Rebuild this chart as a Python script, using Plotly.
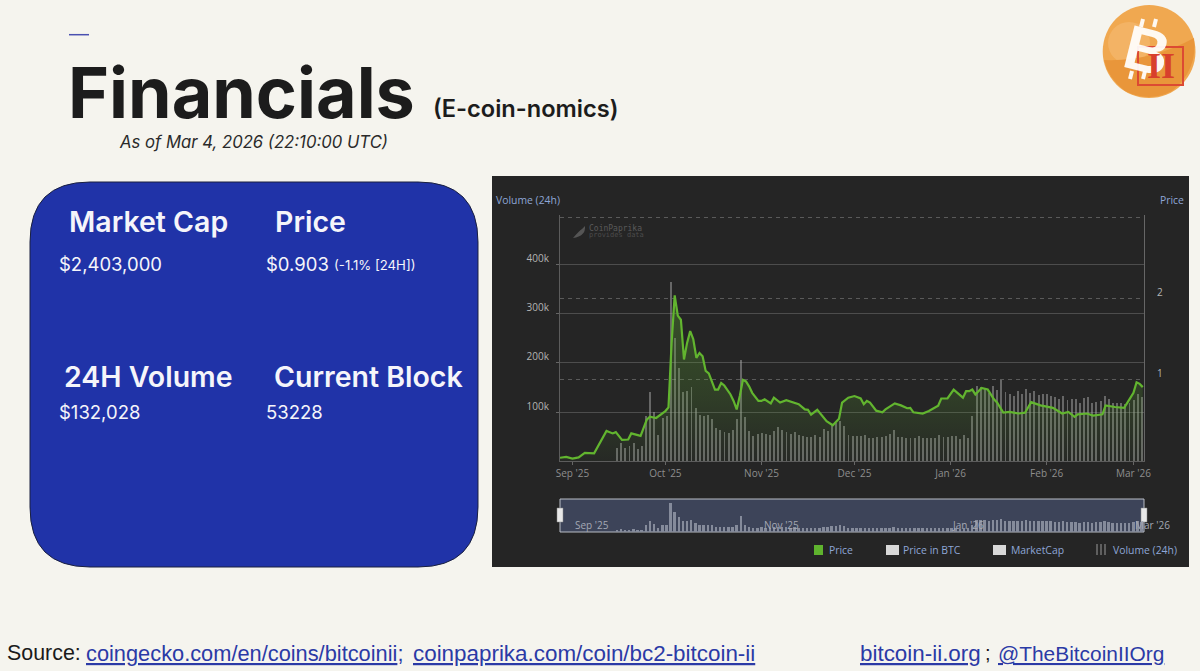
import pandas as pd
import plotly.graph_objects as go

W, H = 1200, 671

# ---- data ----
price_day = [0,2,4,6,8,11,15,17,18,20,22,23,26,28,29,31,34,35,36,37,38,39,40,41,42,43,44,45,46,47,48,49,50,51,52,53,54,55,56,57,58,59,60,61,62,63,64,65,66,68,69,71,73,77,79,80,81,83,86,88,90,91,93,95,97,98,99,100,102,104,105,108,110,112,113,114,117,119,122,123,125,127,130,131,132,133,134,136,138,140,141,143,145,148,150,152,155,159,162,164,166,167,170,172,175,176,179,182,184,185,186,187,188]
price_usd = [.04,.05,.03,.045,.10,.095,.37,.34,.355,.26,.265,.34,.31,.51,.545,.53,.615,.66,1.45,2.04,1.79,1.74,1.25,1.455,1.60,1.50,1.27,1.33,1.29,1.11,1.08,.97,.88,.88,.96,.93,.88,.82,.74,.635,.80,1.0,.98,.92,.84,.79,.74,.74,.76,.71,.78,.72,.75,.70,.635,.63,.57,.63,.49,.44,.52,.72,.78,.80,.77,.70,.74,.72,.62,.60,.635,.71,.685,.65,.655,.60,.585,.615,.68,.77,.77,.88,.78,.86,.86,.88,.82,.90,.88,.76,.72,.595,.605,.585,.595,.725,.685,.655,.585,.605,.545,.575,.585,.56,.575,.685,.665,.655,.78,.84,.97,.95,.91]
volume_k = [27,37,27,30,37,25,30,92,140,100,54,88,92,365,250,190,141,143,150,108,94,91,94,86,67,64,60,58,64,85,206,90,62,51,56,57,56,53,61,69,63,59,56,59,54,51,50,50,54,50,65,61,73,78,82,71,54,52,52,52,54,46,46,48,48,52,56,63,49,49,46,46,46,51,46,47,46,46,54,50,48,51,52,44,54,46,92,153,150,146,139,154,145,165,141,136,133,143,136,146,139,143,135,136,136,133,131,127,133,124,126,127,119,129,131,119,121,122,133,127,119,118,119,116,119,124,136,131]
month_ticks = ["2025-09-01","2025-10-01","2025-11-01","2025-12-01","2026-01-01","2026-02-01","2026-03-01"]
month_labels = ["Sep '25","Oct '25","Nov '25","Dec '25","Jan '26","Feb '26","Mar '26"]
volume_ticks = [100,200,300,400]
volume_tick_labels = ["100k","200k","300k","400k"]
price_ticks = [1,2,3]
price_tick_labels = ["1","2",""]
stats_labels = ["Market Cap","Price","24H Volume","Current Block"]
stats_values = ["$2,403,000","$0.903","$132,028","53228"]

def px(x): return x / W
def py(y): return 1 - y / H

origin = pd.Timestamp("2025-08-28")
price_dates = [origin + pd.Timedelta(days=d) for d in price_day]
volume_dates = pd.date_range("2025-09-15 10:00", "2026-03-03 17:00", periods=len(volume_k))
x_range = [origin, origin + pd.Timedelta(days=188.4)]

fig = go.Figure()
fig.add_trace(go.Bar(x=volume_dates, y=volume_k, width=0.62*86400000, marker=dict(color="rgba(170,170,170,0.5)", line_width=0), xaxis="x", yaxis="y", name="Volume (24h)", showlegend=False))
fig.add_trace(go.Scatter(x=price_dates, y=price_usd, mode="lines", line=dict(color="#62b52f", width=2.2), fill="tozeroy",
    fillgradient=dict(type="vertical", colorscale=[[0,"rgba(95,170,50,0.03)"],[0.4,"rgba(95,170,50,0.19)"],[1,"rgba(95,170,50,0.34)"]]),
    xaxis="x", yaxis="y2", name="Price", showlegend=False))
fig.add_trace(go.Bar(x=volume_dates, y=volume_k, width=0.62*86400000, marker=dict(color="#858b9b", line_width=0), xaxis="x2", yaxis="y3", showlegend=False))

shapes = []
def rect(x0,y0,x1,y1,fill,line=None,lw=0,layer="below"):
    shapes.append(dict(type="rect",xref="paper",yref="paper",x0=px(x0),x1=px(x1),y0=py(y1),y1=py(y0),fillcolor=fill,line=dict(color=line or fill,width=lw),layer=layer))
def line(x0,y0,x1,y1,color,lw=1,layer="above",dash="solid"):
    shapes.append(dict(type="line",xref="paper",yref="paper",x0=px(x0),x1=px(x1),y0=py(y0),y1=py(y1),line=dict(color=color,width=lw,dash=dash),layer=layer))
def pth(cmds,fill,lcolor=None,lw=0,layer="above"):
    s=""
    for c in cmds:
        s+=c[0]+" "+" ".join(f"{px(c[i]):.5f},{py(c[i+1]):.5f}" for i in range(1,len(c),2))+" "
    shapes.append(dict(type="path",xref="paper",yref="paper",path=s+"Z",fillcolor=fill,line=dict(color=lcolor or fill,width=lw),layer=layer))

line(69,34.7,89,34.7,"#4a50b0",1.5)
r=60
x0,x1,y0,y1=30,478,182,567
pth([("M",x0+r,y0),("L",x1-r,y0),("Q",x1,y0,x1,y0+r),("L",x1,y1-r),("Q",x1,y1,x1-r,y1),("L",x0+r,y1),("Q",x0,y1,x0,y1-r),("L",x0,y0+r),("Q",x0,y0,x0+r,y0)],"#2033a8","#1a2040",1,"below")
rect(492,176,1189,567,"#252525")
rect(560,499,1144,532,"#3d4459","#b9bdc6",1)
rect(557,508,563,522,"#e8e8e8","#888888",0.5,"above")
rect(1141,508,1147,522,"#e8e8e8","#888888",0.5,"above")
rect(814,545,823,555,"#5fb32e")
rect(886,545,899,555,"#d8d8d8")
rect(993,545,1006,555,"#d8d8d8")
for xx in (1097,1101,1105):
    line(xx,544,xx,555,"#9a9a9a",1)
pth([("M",585,226),("Q",586,236,573,238),("Q",579,231,582,229)],"#555555")
shapes.append(dict(type="circle",xref="paper",yref="paper",x0=px(1102.7),x1=px(1195.5),y0=py(98),y1=py(5),fillcolor="#f0a850",line_width=0,layer="above"))
shapes.append(dict(type="circle",xref="paper",yref="paper",x0=px(1108),x1=px(1150),y0=py(64),y1=py(22),fillcolor="rgba(250,200,140,0.35)",line_width=0,layer="above"))
pth([("M",1125,91),("Q",1108,78,1104,60),("Q",1150,62,1194,38),("Q",1198,70,1172,91),("Q",1149,103,1125,91)],"#e9963a")
annots=[]
def txt(x,y,t,size,color,family="Inter",weight=400,xa="left",ya="middle",angle=0):
    annots.append(dict(xref="paper",yref="paper",x=px(x),y=py(y),text=t,showarrow=False,xanchor=xa,yanchor=ya,textangle=angle,borderpad=0,borderwidth=0,
                       font=dict(family=family,size=size,color=color,weight=weight)))

txt(1147,50,"B",62,"rgba(255,255,255,0.93)","Liberation Sans",700,"center","middle",14)
for xa,xb in ((1143,1141),(1156,1154)):
    line(xa,19,xb,27,"rgba(255,255,255,0.93)",4)
for xa,xb in ((1132,1130),(1145,1143)):
    line(xa,71,xb,79,"rgba(255,255,255,0.93)",4)
rect(1138,47,1183,85,"rgba(0,0,0,0)","#dc4a33",2,"above")
txt(1161,66,"II",36,"#d8402c","Liberation Serif",700,"center")

txt(68,92,"Financials",70,"#1c1c1c","Inter",700)
txt(433,108,"(E-coin-nomics)",23.6,"#1c1c1c","Inter",600)
txt(119,142,"<i>As of Mar 4, 2026 (22:10:00 UTC)</i>",16.7,"#2a2a2a","Inter",400)

WHT="#f5f5fa"
txt(69,222,stats_labels[0],28.5,WHT,"Inter",600)
txt(275,222,stats_labels[1],28.5,WHT,"Inter",600)
txt(64,376,stats_labels[2],28.5,WHT,"Inter",600)
txt(274,376,stats_labels[3],28.5,WHT,"Inter",600)
txt(59,264,stats_values[0],18.5,WHT)
txt(266,264,stats_values[1],18.5,WHT)
txt(334,265,"(-1.1% [24H])",13.2,WHT)
txt(59,412,stats_values[2],18.5,WHT)
txt(266,412,stats_values[3],18.5,WHT)

BL="#8ea6d6"
txt(496,199.5,"Volume (24h)",10.4,BL,"Open Sans")
txt(1184,199.5,"Price",10.4,BL,"Open Sans",400,"right")
txt(589,228.5,"CoinPaprika",8,"#5a5a5a","DejaVu Sans Mono")
txt(589,235.5,"provides data",7,"#4c4c4c","DejaVu Sans Mono")
for lab,xx in zip(month_labels[0::2],(592,781,968,1152)):
    txt(xx,525,lab,10,"#a4a8b4","Open Sans",400,"center")
txt(829,550,"Price",10.4,BL,"Open Sans")
txt(903,550,"Price in BTC",10.4,BL,"Open Sans")
txt(1011,550,"MarketCap",10.4,BL,"Open Sans")
txt(1113,550,"Volume (24h)",10.4,BL,"Open Sans")

LK="#2b3aa6"
F="Liberation Sans"
txt(7,653,"Source:",21.4,"#1a1a1a",F)
txt(86,653,"<u>coingecko.com/en/coins/bitcoinii</u>;",21.8,LK,F)
txt(413,653,"<u>coinpaprika.com/coin/bc2-bitcoin-ii</u>",22.4,LK,F)
txt(860,653,"<u>bitcoin-ii.org</u>",22.4,LK,F)
txt(985,653,";",20,"#1a1a1a",F)
txt(998,653,"<u>@TheBitcoinIIOrg</u>",20.9,LK,F)

TICK=dict(color="#b4b4b4",size=10,family="Open Sans")
XTICK=dict(color="#8e8e8e",size=10,family="Open Sans")
fig.update_layout(
    width=W,height=H,margin=dict(l=0,r=0,t=0,b=0,autoexpand=False),autosize=False,
    paper_bgcolor="#f5f4ee",plot_bgcolor="rgba(0,0,0,0)",showlegend=False,barmode="overlay",bargap=0,
    shapes=shapes,annotations=annots,
    xaxis=dict(domain=[px(560),px(1144)],range=x_range,type="date",tickmode="array",tickvals=month_ticks,ticktext=month_labels,
               tickfont=XTICK,ticks="outside",ticklen=3,tickcolor="#666666",showgrid=False,showline=True,linecolor="#5c5c5c",zeroline=False,anchor="y"),
    yaxis=dict(domain=[py(461),py(215)],range=[0,502],tickmode="array",tickvals=volume_ticks,ticktext=volume_tick_labels,
               tickfont=TICK,ticks="outside",ticklen=3,tickcolor="#666666",ticklabelshift=-6,gridcolor="#4d4d4d",gridwidth=1,showline=True,linecolor="#5c5c5c",zeroline=False,anchor="x",ticklabelstandoff=5),
    yaxis2=dict(domain=[py(461),py(215)],range=[0,3.03],overlaying="y",side="right",tickmode="array",tickvals=price_ticks,ticktext=price_tick_labels,
               tickfont=TICK,ticks="",ticklabelshift=-6,gridcolor="#5a5a5a",griddash="4px,4px",gridwidth=1,showgrid=True,showline=True,linecolor="#666666",zeroline=False,anchor="x",ticklabelstandoff=10),
    xaxis2=dict(domain=[px(560),px(1144)],range=x_range,type="date",showticklabels=False,showgrid=False,zeroline=False,ticks="",anchor="y3"),
    yaxis3=dict(domain=[py(532),py(499)],range=[0,415],showticklabels=False,showgrid=False,zeroline=False,ticks="",anchor="x2"),
)
fig.write_html("out.html", config=dict(displayModeBar=False), post_script="document.body.style.margin='0';document.documentElement.style.background='#f5f4ee';")
